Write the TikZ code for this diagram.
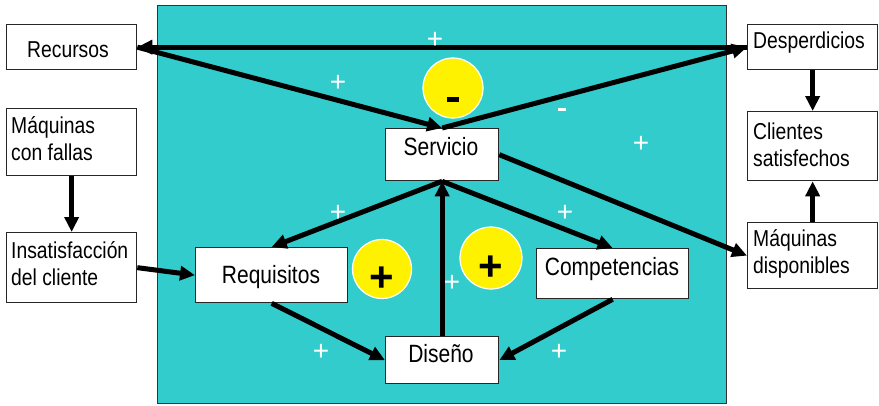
\documentclass[tikz,border=0pt]{standalone}
\usepackage{fontspec}
\setmainfont{Liberation Sans}[FakeStretch=0.84]
\newfontfamily\signfont{Liberation Sans}
\usetikzlibrary{arrows.meta}
\definecolor{teal1}{HTML}{33CCCC}
\begin{document}
\begin{tikzpicture}[x=1pt,y=-1pt,
  box/.style={draw=black!85,line width=1.3pt,fill=white,inner sep=0pt,anchor=north west},
  txt/.style={font=\fontsize{23}{27}\selectfont,inner sep=0pt},
  ctxt/.style={font=\fontsize{25}{27}\selectfont,inner sep=0pt},
  conn/.style={line width=5pt,-{Triangle[length=15pt,width=14pt]}},
  bubble/.style={circle,fill=yellow,draw=white,line width=1.2pt,inner sep=0pt},
  sign/.style={font=\signfont\fontsize{28}{28}\selectfont,text=white,inner sep=0pt},
  bigplus/.style={font=\signfont\bfseries\fontsize{42}{42}\selectfont,inner sep=0pt}]
\useasboundingbox (0,0) rectangle (879,405);
\fill[teal1,draw=black!80,line width=1pt] (157,5) rectangle (726,403);
% boxes
\node[box,minimum width=130,minimum height=45] (rec) at (6,24) {};
\node[box,minimum width=130,minimum height=67] (mcf) at (6,108) {};
\node[box,minimum width=130,minimum height=70] (ins) at (6,232) {};
\node[box,minimum width=152,minimum height=55] (req) at (195,247) {};
\node[box,minimum width=113,minimum height=47] (dis) at (385,336) {};
\node[box,minimum width=152,minimum height=50] (comp) at (536,248) {};
\node[box,minimum width=113,minimum height=52] (serv) at (385,128) {};
\node[box,minimum width=130,minimum height=45] (desp) at (747,24) {};
\node[box,minimum width=130,minimum height=69] (cli) at (747,111) {};
\node[box,minimum width=130,minimum height=66] (mdisp) at (747,222) {};
% texts
\node[txt,anchor=base] (trec) at (68,57) {Recursos};
\node[txt,anchor=base west,align=left] (tmcf) at (11,160) {Máquinas\\con fallas};
\node[txt,anchor=base west,align=left] (tins) at (11,285) {Insatisfacción\\del cliente};
\node[ctxt,anchor=base] (treq) at (271,283) {Requisitos};
\node[ctxt,anchor=base] (tdis) at (441,362) {Diseño};
\node[ctxt,anchor=base] (tcomp) at (612,275) {Competencias};
\node[ctxt,anchor=base] (tserv) at (441,155) {Servicio};
\node[txt,anchor=base west] (tdesp) at (753,48) {Desperdicios};
\node[txt,anchor=base west,align=left] (tcli) at (753,166) {Clientes\\satisfechos};
\node[txt,anchor=base west,align=left] (tmd) at (753,273) {Máquinas\\disponibles};
% connectors
\draw[conn] (desp.west) -- (rec.east);
\draw[conn] (rec.east) -- (serv.north);
\draw[conn] (serv.north) -- (desp.west);
\draw[conn] (desp.south) -- (cli.north);
\draw[conn] (mdisp.north) -- (cli.south);
\draw[conn] (mcf.south) -- (ins.north);
\draw[conn] (ins.east) -- (req.west);
\draw[conn] (serv.south) -- (req.north);
\draw[conn] (serv.south) -- (comp.north);
\draw[conn] (dis.north) -- (serv.south);
\draw[conn] (req.south) -- (dis.west);
\draw[conn] (comp.south) -- (dis.east);
\draw[conn] (serv.east) -- (mdisp.west);
% bubbles
\node[bubble,minimum size=60] (b1) at (453,88) {};
\node[bubble,minimum size=59] (b2) at (382,269) {};
\node[bubble,minimum size=62] (b3) at (491,258) {};
\fill[black] (447,97) rectangle (459,102);
\node[bigplus] (s2) at (382,279) {+};
\node[bigplus] (s3) at (491,268) {+};
% white signs
\node[sign] (p1) at (435,40) {+};
\node[sign] (p2) at (338,83) {+};
\fill[white] (558,108) rectangle (566,111);
\node[sign] (p4) at (641,144) {+};
\node[sign] (p5) at (338,213) {+};
\node[sign] (p6) at (565,213) {+};
\node[sign] (p7) at (452,283) {+};
\node[sign] (p8) at (321,352) {+};
\node[sign] (p9) at (559,352) {+};
\end{tikzpicture}
\end{document}
